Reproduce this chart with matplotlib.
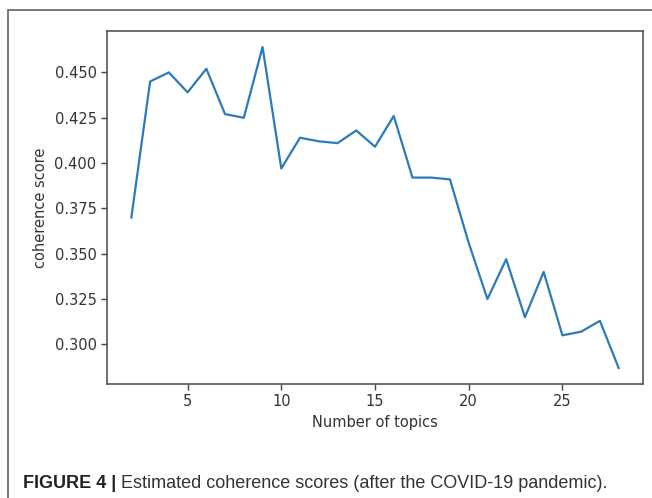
import numpy as np
import matplotlib
matplotlib.use('Agg')
import matplotlib.pyplot as plt
from matplotlib.patches import Rectangle

# coherence score for each number of topics (2..28)
num_topics = list(range(2, 29))
coherence = [0.370, 0.445, 0.450, 0.439, 0.452, 0.427, 0.425, 0.464, 0.397,
             0.414, 0.412, 0.411, 0.418, 0.409, 0.426, 0.392, 0.392, 0.391,
             0.356, 0.325, 0.347, 0.315, 0.340, 0.305, 0.307, 0.313, 0.287]

x_ticks = [5, 10, 15, 20, 25]
y_ticks = [0.300, 0.325, 0.350, 0.375, 0.400, 0.425, 0.450]

caption_bold = 'FIGURE 4 |'
caption_rest = ' Estimated coherence scores (after the COVID-19 pandemic).'

fig = plt.figure(figsize=(6.52, 4.98), dpi=100)

# frame round the whole figure box (only top and left edges fall inside)
fig.patches.append(Rectangle((7.5 / 652, -0.1), 1.2, 1.1 - 10.5 / 498,
                             transform=fig.transFigure, fill=False,
                             edgecolor='#6e6e6e', linewidth=1.3))

ax = fig.add_axes([107 / 652, 1 - 384 / 498, 536 / 652, 353 / 498])
ax.plot(num_topics, coherence, color='#2b7bba', linewidth=1.6)

ax.set_xticks(x_ticks)
ax.set_yticks(y_ticks)
ax.set_yticklabels([f'{v:.3f}' for v in y_ticks])
ax.tick_params(labelsize=10.5, length=4, width=1, colors='#444444',
               labelcolor='#333333')
for s in ax.spines.values():
    s.set_color('#555555')
    s.set_linewidth(1.2)
ax.set_xlabel('Number of topics', fontsize=10.5, color='#333333', labelpad=4)
ax.set_ylabel('coherence score', fontsize=10.5, color='#333333', labelpad=5)

# caption with bold figure number followed by plain text
fig.canvas.draw()
r = fig.canvas.get_renderer()
t1 = fig.text(23 / 652, 1 - 483 / 498, caption_bold, fontsize=13,
              fontweight='bold', family='Liberation Sans', color='#222222',
              va='center', ha='left')
bb = t1.get_window_extent(renderer=r)
fig.text(bb.x1 / 652, 1 - 483 / 498, caption_rest, fontsize=13,
         family='Liberation Sans', color='#333333', va='center', ha='left')

fig.savefig('out.png', dpi=100)
